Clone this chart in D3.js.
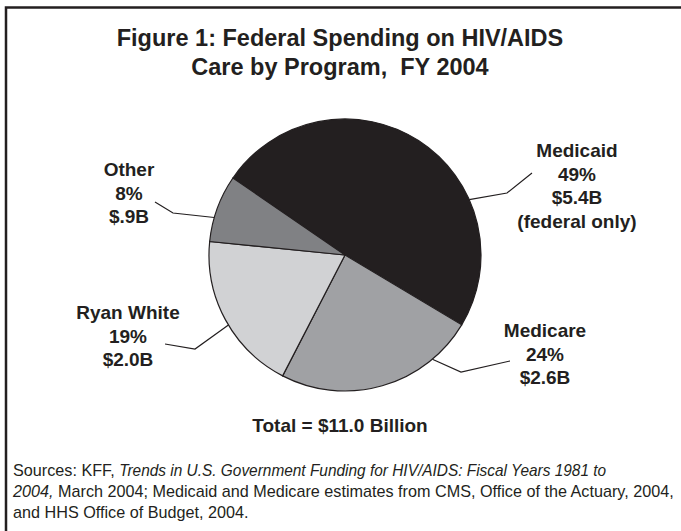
<!DOCTYPE html>
<html>
<head>
<meta charset="utf-8">
<script src="https://cdn.jsdelivr.net/npm/d3@7.9.0/dist/d3.min.js"></script>
<style>
  body { margin: 0; background: #fff; }
  text { font-family: "Liberation Sans", Arial, Helvetica, sans-serif; fill: #231f20; }
</style>
</head>
<body>
<svg id="chart" width="681" height="531"></svg>
<script>
// === Data ===
const programs = ['Medicaid', 'Medicare', 'Ryan White', 'Other'];
const shares = [49, 24, 19, 8];
const amounts = ['$5.4B', '$2.6B', '$2.0B', '$.9B'];
const notes = ['(federal only)', '', '', ''];
const totalLabel = 'Total = $11.0 Billion';

// === Layout (label placement, not data) ===
const fills = ['#231f20', '#a0a1a4', '#d1d2d4', '#808184'];
const labelLayout = [
  { x: 577, y: 157, leaderAngle: 66, elbow: [507, 193], end: [532, 173] },
  { x: 545, y: 337, leaderAngle: 140, elbow: [461, 372], end: [510, 361] },
  { x: 128, y: 319, leaderAngle: 239, elbow: [195, 349], end: [165, 344] },
  { x: 129, y: 176, leaderAngle: 286, elbow: [173, 213], end: [155, 202] }
];

const svg = d3.select('#chart');
const cx = 345, cy = 255, radius = 136;

// frame (only top and left edges visible in the crop)
svg.append('rect')
  .attr('x', 6).attr('y', 7.5)
  .attr('width', 700).attr('height', 560)
  .attr('fill', 'none')
  .attr('stroke', '#231f20')
  .attr('stroke-width', 2.5);

// title
const title = svg.append('text')
  .attr('text-anchor', 'middle')
  .attr('font-weight', 'bold')
  .attr('font-size', 23.5);
title.append('tspan').attr('x', 340).attr('y', 46).text('Figure 1: Federal Spending on HIV/AIDS');
title.append('tspan').attr('x', 340).attr('y', 75).style('white-space', 'pre').text('Care by Program,  FY 2004');

// pie
const pie = d3.pie()
  .sort(null)
  .value((d) => d)
  .startAngle(-55.5 * Math.PI / 180)
  .endAngle((360 - 55.5) * Math.PI / 180);
const arcGen = d3.arc().innerRadius(0).outerRadius(radius);
const g = svg.append('g').attr('transform', `translate(${cx},${cy})`);

g.selectAll('path')
  .data(pie(shares))
  .join('path')
  .attr('d', arcGen)
  .attr('fill', (_, i) => fills[i])
  .attr('stroke', '#231f20')
  .attr('stroke-width', 1.2);

// leader lines
labelLayout.forEach((l) => {
  const a = l.leaderAngle * Math.PI / 180;
  const px = cx + radius * Math.sin(a);
  const py = cy - radius * Math.cos(a);
  svg.append('polyline')
    .attr('points', [[px, py], l.elbow, l.end].map((p) => p.join(',')).join(' '))
    .attr('fill', 'none')
    .attr('stroke', '#231f20')
    .attr('stroke-width', 1.2);
});

// labels
programs.forEach((name, i) => {
  const l = labelLayout[i];
  const lines = [name, `${shares[i]}%`, amounts[i]];
  if (notes[i]) lines.push(notes[i]);
  const t = svg.append('text')
    .attr('text-anchor', 'middle')
    .attr('font-weight', 'bold')
    .attr('font-size', 19);
  lines.forEach((s, k) => {
    t.append('tspan').attr('x', l.x).attr('y', l.y + k * 23.5).text(s);
  });
});

// total
svg.append('text')
  .attr('x', 340).attr('y', 432)
  .attr('text-anchor', 'middle')
  .attr('font-weight', 'bold')
  .attr('font-size', 19)
  .text(totalLabel);

// sources
const src = svg.append('text').attr('font-size', 16.2);
const l1 = src.append('tspan').attr('x', 13).attr('y', 476);
l1.append('tspan').text('Sources: KFF, ');
l1.append('tspan').attr('font-style', 'italic')
  .attr('textLength', 487).attr('lengthAdjust', 'spacingAndGlyphs')
  .text('Trends in U.S. Government Funding for HIV/AIDS: Fiscal Years 1981 to');
const l2 = src.append('tspan').attr('x', 13).attr('y', 497);
l2.append('tspan').attr('font-style', 'italic').text('2004,');
l2.append('tspan').text(' March 2004; Medicaid and Medicare estimates from CMS, Office of the Actuary, 2004,');
src.append('tspan').attr('x', 13).attr('y', 518).text('and HHS Office of Budget, 2004.');
</script>
</body>
</html>
